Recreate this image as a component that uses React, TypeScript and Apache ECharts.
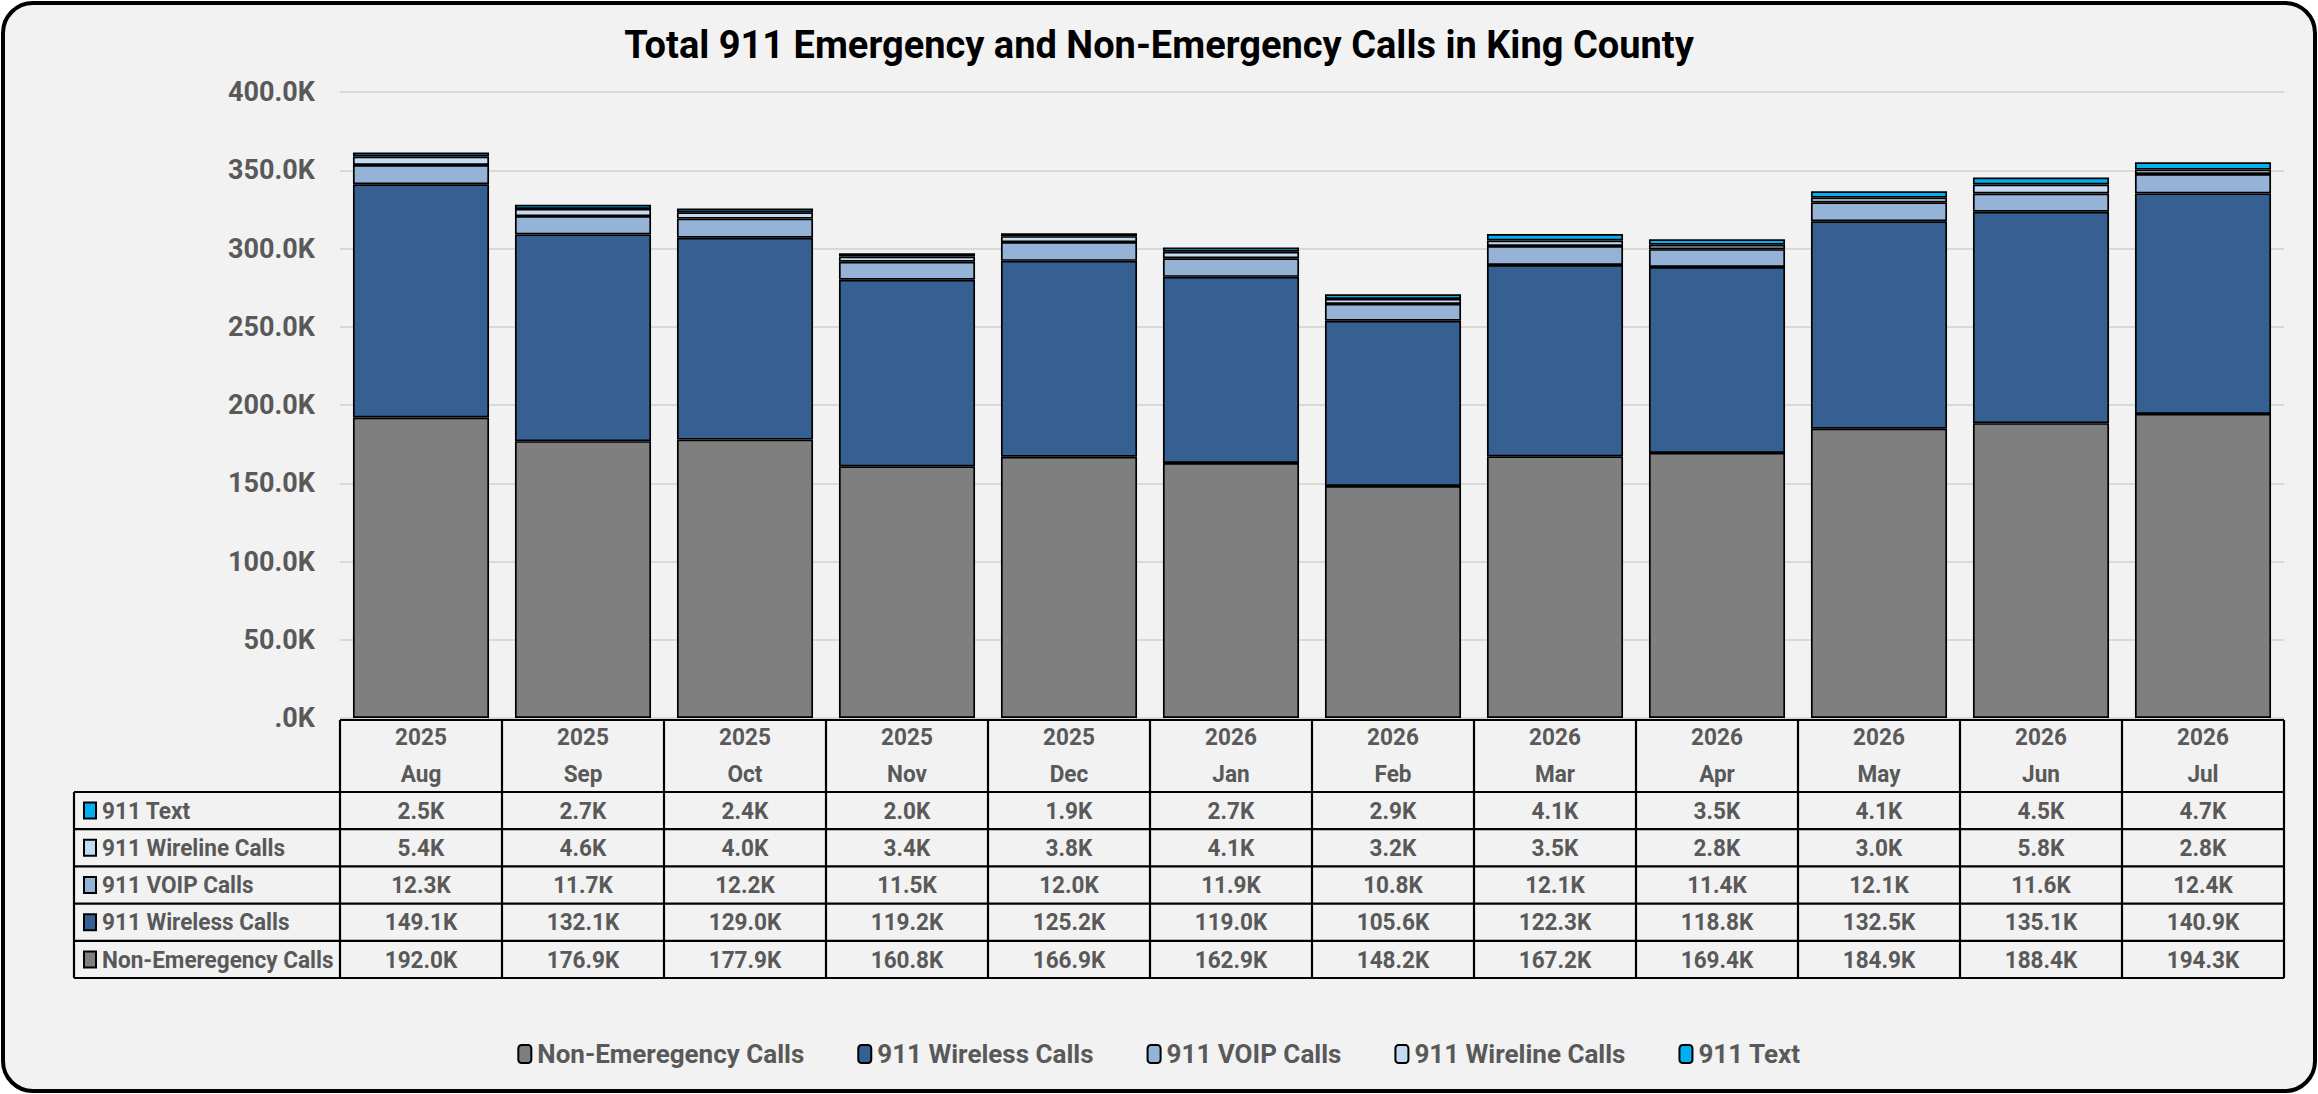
import React, { useEffect, useRef } from "react";
import * as echarts from "echarts";

const years = ["2025", "2025", "2025", "2025", "2025", "2026", "2026", "2026", "2026", "2026", "2026", "2026"];
const months = ["Aug", "Sep", "Oct", "Nov", "Dec", "Jan", "Feb", "Mar", "Apr", "May", "Jun", "Jul"];

// values in thousands of calls
const nonEmergency = [192.0, 176.9, 177.9, 160.8, 166.9, 162.9, 148.2, 167.2, 169.4, 184.9, 188.4, 194.3];
const wireless = [149.1, 132.1, 129.0, 119.2, 125.2, 119.0, 105.6, 122.3, 118.8, 132.5, 135.1, 140.9];
const voip = [12.3, 11.7, 12.2, 11.5, 12.0, 11.9, 10.8, 12.1, 11.4, 12.1, 11.6, 12.4];
const wireline = [5.4, 4.6, 4.0, 3.4, 3.8, 4.1, 3.2, 3.5, 2.8, 3.0, 5.8, 2.8];
const text911 = [2.5, 2.7, 2.4, 2.0, 1.9, 2.7, 2.9, 4.1, 3.5, 4.1, 4.5, 4.7];

const seriesNames = ["Non-Emeregency Calls", "911 Wireless Calls", "911 VOIP Calls", "911 Wireline Calls", "911 Text"];
const seriesData = [nonEmergency, wireless, voip, wireline, text911];
const seriesColors = ["#7F7F7F", "#366092", "#95B3D7", "#C5D9F1", "#00B0F0"];

const yMin = 0;
const yMax = 400;
const yInterval = 50;

const FF = "Roboto, 'Noto Sans', sans-serif";
const W = 2318;
const H = 1094;
const GL = 340;
const GR = 2284;
const GT = 92;
const GB = 718;
const TEXT_GREY = "#595959";

const fmtK = (v: number) => (v === 0 ? ".0K" : v.toFixed(1) + "K");

export default function App() {
  const ref = useRef<HTMLDivElement>(null);
  useEffect(() => {
    document.body.style.margin = "0";
    document.body.style.overflow = "hidden";
    const chart = echarts.init(ref.current!, null, { renderer: "svg" });
    const n = months.length;
    const colW = (GR - GL) / n;
    const headerTop = GB + 2;
    const headerBottom = 792;
    const rowH = 37.2;
    const labelLeft = 74;
    const nRows = seriesNames.length;
    const tableBottom = headerBottom + rowH * nRows;
    const SX = 0.94;
    const els: any[] = [];
    const line = (x1: number, y1: number, x2: number, y2: number) =>
      els.push({ type: "line", shape: { x1, y1, x2, y2 }, style: { stroke: "#000", lineWidth: 2.2 }, z: 10 });
    const txt = (s: string, x: number, y: number, align: string, size: number, fill: string) =>
      els.push({
        type: "text",
        z: 11,
        x,
        y,
        scaleX: SX,
        style: { text: s, x: 0, y: 0, textAlign: align, textVerticalAlign: "middle", font: `bold ${size}px ${FF}`, fill },
      });
    // header top line
    line(GL, headerTop, GR, headerTop);
    // row lines
    for (let r = 0; r <= nRows; r++) {
      const y = headerBottom + r * rowH;
      line(labelLeft, y, GR, y);
    }
    // vertical lines
    line(labelLeft, headerBottom, labelLeft, tableBottom);
    for (let c = 0; c <= n; c++) {
      const x = GL + c * colW;
      line(x, headerTop, x, tableBottom);
    }
    // header texts
    for (let c = 0; c < n; c++) {
      const cx = GL + (c + 0.5) * colW;
      txt(years[c], cx, 737, "center", 24, TEXT_GREY);
      txt(months[c], cx, 774, "center", 24, TEXT_GREY);
    }
    // rows (reverse order: top series first)
    for (let r = 0; r < nRows; r++) {
      const si = nRows - 1 - r;
      const cy = headerBottom + (r + 0.5) * rowH;
      els.push({ type: "rect", z: 11, shape: { x: 84, y: cy - 8, width: 12, height: 16 }, style: { fill: seriesColors[si], stroke: "#000", lineWidth: 2 } });
      txt(seriesNames[si], 102, cy, "left", 24, TEXT_GREY);
      for (let c = 0; c < n; c++) {
        const cx = GL + (c + 0.5) * colW;
        txt(fmtK(seriesData[si][c]), cx, cy, "center", 24, TEXT_GREY);
      }
    }
    // title
    els.push({
      type: "text",
      z: 11,
      x: W / 2,
      y: 45,
      style: {
        text: "Total 911 Emergency and Non-Emergency Calls in King County",
        x: 0,
        y: 0,
        textAlign: "center",
        textVerticalAlign: "middle",
        font: `bold 38px ${FF}`,
        fill: "#000",
      },
    });
    // outer rounded border
    els.push({ type: "rect", z: -10, silent: true, shape: { x: 3, y: 3, width: W - 6, height: H - 6, r: 30 }, style: { fill: "#F2F2F2", stroke: "#000", lineWidth: 4 } });

    chart.setOption({
      animation: false,
      backgroundColor: "#FFFFFF",
      grid: { left: GL, right: W - GR, top: GT, bottom: H - GB, containLabel: false },
      legend: {
        bottom: 22,
        left: "center",
        itemGap: 53,
        itemWidth: 13,
        itemHeight: 18,
        data: seriesNames,
        textStyle: { fontFamily: FF, fontSize: 26, fontWeight: "bold", color: TEXT_GREY, padding: [0, 0, 0, 1] },
        itemStyle: { borderColor: "#000", borderWidth: 2 },
      },
      xAxis: {
        type: "category",
        data: months,
        axisLine: { show: false },
        axisTick: { show: false },
        axisLabel: { show: false },
      },
      yAxis: {
        type: "value",
        min: yMin,
        max: yMax,
        interval: yInterval,
        axisLine: { show: false },
        axisTick: { show: false },
        splitLine: { lineStyle: { color: "#D9D9D9", width: 2 } },
        axisLabel: { formatter: fmtK, fontFamily: FF, fontSize: 27, fontWeight: "bold", color: TEXT_GREY, margin: 25 },
      },
      series: seriesNames.map((name, i) => ({
        name,
        type: "bar",
        stack: "total",
        barCategoryGap: "16%",
        data: seriesData[i],
        itemStyle: { color: seriesColors[i], borderColor: "#000", borderWidth: 1.7 },
      })),
      graphic: { elements: els },
    });
    return () => chart.dispose();
  }, []);
  return <div ref={ref} style={{ width: W, height: H }} />;
}
